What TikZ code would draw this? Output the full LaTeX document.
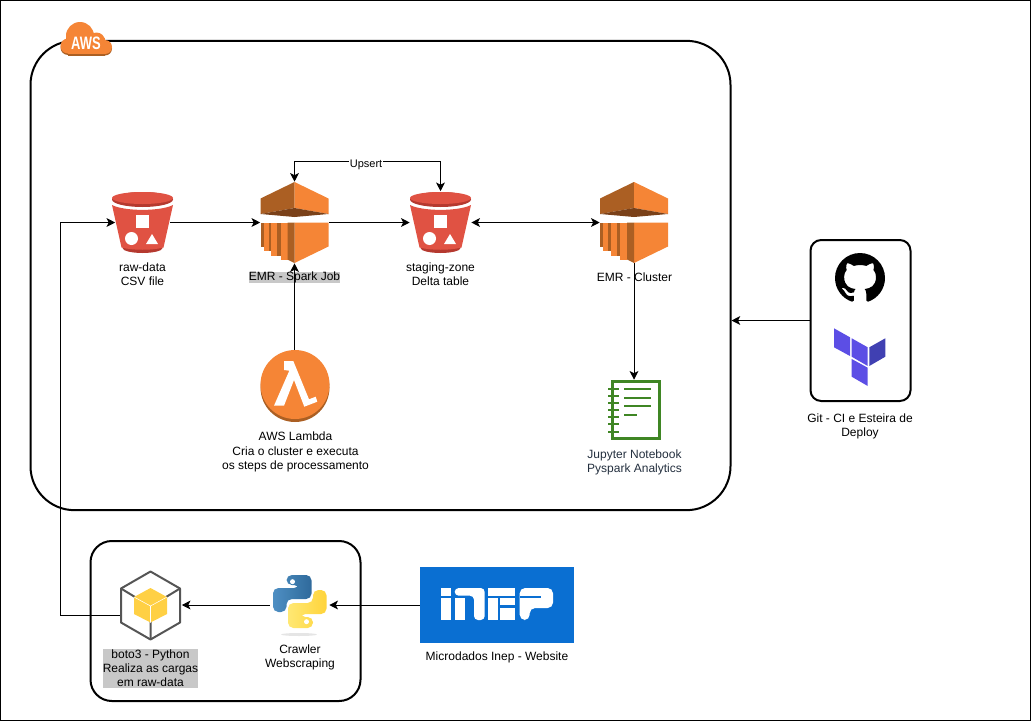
\documentclass[tikz,border=0pt]{standalone}
\usepackage{fontspec}
\setmainfont{Liberation Sans}
\usetikzlibrary{arrows.meta}
\usetikzlibrary{svg.path}
\definecolor{awsorange}{HTML}{F58536}
\definecolor{awsbrown}{HTML}{AB5F23}
\definecolor{awsdark}{HTML}{7A4119}
\definecolor{s3red}{HTML}{E05243}
\definecolor{s3dark}{HTML}{B5392F}
\definecolor{labelgray}{HTML}{C8C8C8}
\definecolor{notegreen}{HTML}{3F8624}
\definecolor{notetext}{HTML}{232F3E}
\definecolor{tfviolet}{HTML}{5C4EE5}
\definecolor{tfdark}{HTML}{4040B2}
\definecolor{inepblue}{HTML}{0A6FD2}
\definecolor{cubegray}{HTML}{555555}
\definecolor{cubeyellow}{HTML}{FFD044}
\definecolor{pyblueA}{HTML}{4E8FC3}
\definecolor{pyblueB}{HTML}{2F6A9B}
\definecolor{pyyellowA}{HTML}{FFE873}
\definecolor{pyyellowB}{HTML}{FFD43B}
\tikzset{
  panel/.style={draw,line width=1.5pt,inner sep=0pt},
  iconbox/.style={inner sep=0pt},
  lbl/.style={inner sep=0pt,align=center,font=\fontsize{9}{10.6}\selectfont},
  graylbl/.style={lbl,fill=labelgray,inner xsep=0pt,inner ysep=.3pt},
  flow/.style={draw,line width=.75pt,-{Stealth[length=6.5pt,width=6.5pt,inset=1.6pt]}},
  twoway/.style={draw,line width=.75pt,{Stealth[length=6.5pt,width=6.5pt,inset=1.6pt]}-{Stealth[length=6.5pt,width=6.5pt,inset=1.6pt]}},
  pics/s3bucket/.style={code={
    \fill[s3dark] (0,-23) ellipse (30.5 and 7.5);
    \fill[s3red] (0,-24.5) ellipse (30.5 and 6);
    \fill[s3dark] (0,25.5) ellipse (20 and 5);
    \fill[s3red] (-30.5,-17.5) .. controls (-18,-11) and (18,-11) .. (30.5,-17.5) -- (21,25) .. controls (10,28) and (-10,28) .. (-21,25) -- cycle;
    \fill[white] (-7,-7.5) rectangle (6,5.5);
    \fill[white] (-11,16) circle (6.5);
    \fill[white] (9.5,11.5) -- (15.5,21.5) -- (3.5,21.5) -- cycle;
  }},
  pics/emrjob/.style={code={
    \fill[awsbrown] (-34,-24) -- (0,-40.5) -- (0,-14.5) -- (-34,-8.5) -- cycle;
    \fill[awsorange] (34,-24) -- (0,-40.5) -- (0,-14.5) -- (34,-8.5) -- cycle;
    \fill[awsdark] (-34,-8.5) -- (0,-14.5) -- (34,-8.5) -- (0,-5.5) -- cycle;
    \fill[awsorange] (0,0) -- (34,0) -- (34,24) -- (0,40.5) -- cycle;
    \fill[awsbrown] (-34,0) rectangle (-31,24.5);
    \fill[awsorange] (-31,0) rectangle (-26,28);
    \fill[awsbrown] (-26,0) rectangle (-23.5,28);
    \fill[awsorange] (-23.5,0) rectangle (-17.5,33);
    \fill[awsbrown] (-17.5,0) rectangle (-14,33);
    \fill[awsorange] (-14,0) rectangle (-7,37);
    \fill[awsbrown] (-7,0) -- (0,0) -- (0,40.5) -- (-7,37) -- cycle;
  }},
}
\begin{document}
\begin{tikzpicture}[x=.75pt,y=-.75pt]
\useasboundingbox (0,0) rectangle (1031,721);
\draw[line width=.75pt] (.5,.5) rectangle (1030.5,720.5);
% panels
\node (awsbox) at (380.5,275.5) [panel,rounded corners=33pt,minimum width=525pt,minimum height=352pt] {};
\node (botobox) at (225.5,621) [panel,rounded corners=16pt,minimum width=202.5pt,minimum height=120pt] {};
\node (gitbox) at (860.5,320.5) [panel,rounded corners=8pt,minimum width=75pt,minimum height=120.75pt] {};
% anchors of the icons
\node (raw) at (142.5,222.5) [iconbox,minimum width=40.5pt,minimum height=46.5pt] {};
\node (spark) at (294.5,222.5) [iconbox,minimum width=51pt,minimum height=60.75pt] {};
\node (staging) at (440.5,222.5) [iconbox,minimum width=45.75pt,minimum height=46.5pt] {};
\node (cluster) at (634,222.5) [iconbox,minimum width=51pt,minimum height=60.75pt] {};
\node (lambda) at (294.5,386) [iconbox,minimum width=51.75pt,minimum height=54pt] {};
\node (jupyter) at (634,410) [iconbox,minimum width=39pt,minimum height=45pt] {};
\node (boto) at (151,605) [iconbox,minimum width=45.75pt,minimum height=51pt] {};
\node (python) at (299.5,605) [iconbox,minimum width=44.25pt,minimum height=39pt] {};
\node (inep) at (497,605) [iconbox,fill=inepblue,minimum width=115.5pt,minimum height=56.5pt] {};
% labels
\node (rawlbl) at (142.5,274) [lbl] {raw-data\\CSV file};
\node (sparklbl) at (294.5,277.5) [graylbl] {EMR - Spark Job};
\node (staginglbl) at (440.5,274) [lbl] {staging-zone\\Delta table};
\node (clusterlbl) at (634.5,277.5) [lbl] {EMR - Cluster};
\node (lambdalbl) at (295.5,452) [lbl] {AWS Lambda\\Cria o cluster e executa\\os steps de processamento};
\node (jupyterlbl) at (634.5,462) [lbl,text=notetext] {Jupyter Notebook\\Pyspark Analytics};
\node (gitlbl) at (860,426.5) [lbl] {Git - CI e Esteira de\\Deploy};
\node (botolbl) at (150.5,668.5) [graylbl,inner ysep=1pt] {boto3 - Python\\Realiza as cargas\\em raw-data};
\node (crawlerlbl) at (300,657) [lbl] {Crawler\\Webscraping};
\node (ineplbl) at (497,657) [lbl] {Microdados Inep - Website};
% connectors
\draw[flow] (raw) -- (spark);
\draw[flow] (spark) -- (staging);
\draw[twoway] (staging.east) -- (cluster.west);
\draw[twoway] (spark.north) -- ++(0,-20) -| (staging.north)
  node[pos=.245,fill=white,inner sep=.5pt,font=\fontsize{8.25}{10}\selectfont,yshift=-2pt] (upsert) {Upsert};
\draw[flow] (lambda.north) -- (spark.south);
\draw[flow] (cluster.south) -- (jupyter.north);
\draw[flow] (gitbox.west) -- (gitbox.west -| awsbox.east);
\draw[flow] (inep.west) -- (python.east);
\draw[flow] (python.west) -- (boto.east);
\draw[flow] ([yshift=-7.5pt]boto.west) -- ++(-60,0) |- (raw.west);
% icons
\pic at (raw) {s3bucket};
\pic at (staging) {s3bucket};
\pic at (spark) {emrjob};
\pic at (cluster) {emrjob};
% aws cloud
\foreach \fillc/\dy in {awsbrown/1.5,awsorange/0} {
  \begin{scope}[yshift=-\dy*.75pt]
    \fill[\fillc] (80,36) circle (14);
    \fill[\fillc] (96.5,41) circle (8.5);
    \fill[\fillc] (68,46) circle (7.5);
    \fill[\fillc] (105,47) circle (7);
    \fill[\fillc] (68,38) rectangle (105,54);
  \end{scope}
}
\node (awslbl) at (86,43.5) [inner sep=0pt,text=white,font=\fontsize{13.5}{14}\bfseries\selectfont,xscale=.72,transform shape] {AWS};
% lambda
\fill[awsbrown] (295,387.5) circle (34.5);
\fill[awsorange] (295,384.5) circle (34.5);
\fill[white] (284,361) -- (293.3,361) -- (309,399.3) -- (315.7,396.7) -- (317.3,401.7) -- (304.3,406.7) -- (294,380) -- (284,405.7) -- (274,405.7) -- (289.3,370.7) -- (284,370) -- cycle;
% notebook
\draw[notegreen,line width=2.1pt] (612.3,381.5) rectangle (659.5,438.5);
\foreach \yy in {389,396,403.3,410.3,417.3,424.3,431.7} {
  \draw[notegreen,line width=1.6pt] (608,\yy) -- (619,\yy);
}
\foreach \yy/\xend in {389/651,397.7/651,406.3/651,415/637.3} {
  \draw[notegreen,line width=1.6pt] (624.3,\yy) -- (\xend,\yy);
}
% github
\begin{scope}[shift={(835,253)},xscale=2.34375,yscale=-2.34375]
\fill[black] (0,0) svg "M 8 0 C 3.58 0 0 3.58 0 8 c 0 3.54 2.29 6.53 5.47 7.59 c 0.4 0.07 0.55 -0.17 0.55 -0.38 c 0 -0.19 -0.01 -0.82 -0.01 -1.49 c -2.01 0.37 -2.53 -0.49 -2.69 -0.94 c -0.09 -0.23 -0.48 -0.94 -0.82 -1.13 c -0.28 -0.15 -0.68 -0.52 -0.01 -0.53 c 0.63 -0.01 1.08 0.58 1.23 0.82 c 0.72 1.21 1.87 0.87 2.33 0.66 c 0.07 -0.52 0.28 -0.87 0.51 -1.07 c -1.78 -0.2 -3.64 -0.89 -3.64 -3.95 c 0 -0.87 0.31 -1.59 0.82 -2.15 c -0.08 -0.2 -0.36 -1.02 0.08 -2.12 c 0 0 0.67 -0.21 2.2 0.82 c 0.64 -0.18 1.32 -0.27 2 -0.27 c 0.68 0 1.36 0.09 2 0.27 c 1.53 -1.04 2.2 -0.82 2.2 -0.82 c 0.44 1.1 0.16 1.92 0.08 2.12 c 0.51 0.56 0.82 1.27 0.82 2.15 c 0 3.07 -1.87 3.75 -3.65 3.95 c 0.29 0.25 0.54 0.73 0.54 1.48 c 0 1.07 -0.01 1.93 -0.01 2.2 c 0 0.21 0.15 0.46 0.55 0.38 C 13.71 14.53 16 11.53 16 8 c 0 -4.42 -3.58 -8 -8 -8 z";
\end{scope}
% terraform
\fill[tfviolet] (834,328.3) -- (850,337.3) -- (850,356) -- (834,347.3) -- cycle;
\fill[tfviolet] (851.7,338.3) -- (867.7,347.3) -- (867.7,366) -- (851.7,356.7) -- cycle;
\fill[tfdark] (869.3,347.3) -- (885.3,338.3) -- (885.3,356.7) -- (869.3,366) -- cycle;
\fill[tfviolet] (851.7,359) -- (867.7,367.7) -- (867.7,386) -- (851.7,376.7) -- cycle;
% cube
\draw[cubegray,line width=1.5pt,line join=round] (150.5,571.5) -- (180,588.5) -- (180,622.5) -- (150.5,639.5) -- (121,622.5) -- (121,588.5) -- cycle;
\draw[cubegray,line width=1.5pt] (121,588.5) -- (135,597) (180,588.5) -- (166,597) (150.5,639.5) -- (150.5,622);
\fill[cubeyellow] (150.5,588) -- (167,597) -- (167,614) -- (150.5,622.5) -- (134,614) -- (134,597) -- cycle;
\draw[white,line width=.4pt] (134,597) -- (150.5,606) -- (167,597) (150.5,606) -- (150.5,622.5);
% python
\fill[gray!20] (299,634.5) ellipse (18 and 1.5);
\shade[rounded corners=4pt,left color=pyblueA,right color=pyblueB] (286.5,575) -- (311.5,575) -- (311.5,599) -- (286.5,599) -- (286.5,612) -- (273,612) -- (273,588) -- (299.5,588) -- (299.5,585) -- (286.5,585) -- cycle;
\shade[rounded corners=4pt,left color=pyyellowA,right color=pyyellowB] (313,628) -- (288,628) -- (288,603) -- (313,603) -- (313,590) -- (326.5,590) -- (326.5,614) -- (300,614) -- (300,617) -- (313,617) -- cycle;
\fill[white] (292.5,581.7) circle (2.5);
\fill[white] (306.5,621.7) circle (2.5);
% inep logo
\fill[white] (441.3,588) rectangle (451.3,595.7);
\fill[white] (441.3,598) rectangle (451.3,620);
\fill[white,rounded corners=3pt] (454.7,588) -- (484.7,588) -- (484.7,620) -- (474,620) -- (474,595.7) -- (454.7,595.7) -- cycle;
\fill[white] (454.7,598) rectangle (464.7,620);
\fill[white] (488,588) rectangle (515,595.7);
\fill[white] (488,598) rectangle (498,620);
\fill[white] (499.5,598) rectangle (515,604.5);
\fill[white] (499.5,608) rectangle (515,620);
\fill[white,rounded corners=4pt] (519.7,588) -- (553,588) -- (553,608) -- (529.7,608) -- (529.7,620) -- (519.7,620) -- cycle;
\fill[inepblue] (519.7,595.7) rectangle (541,598);
\end{tikzpicture}
\end{document}
